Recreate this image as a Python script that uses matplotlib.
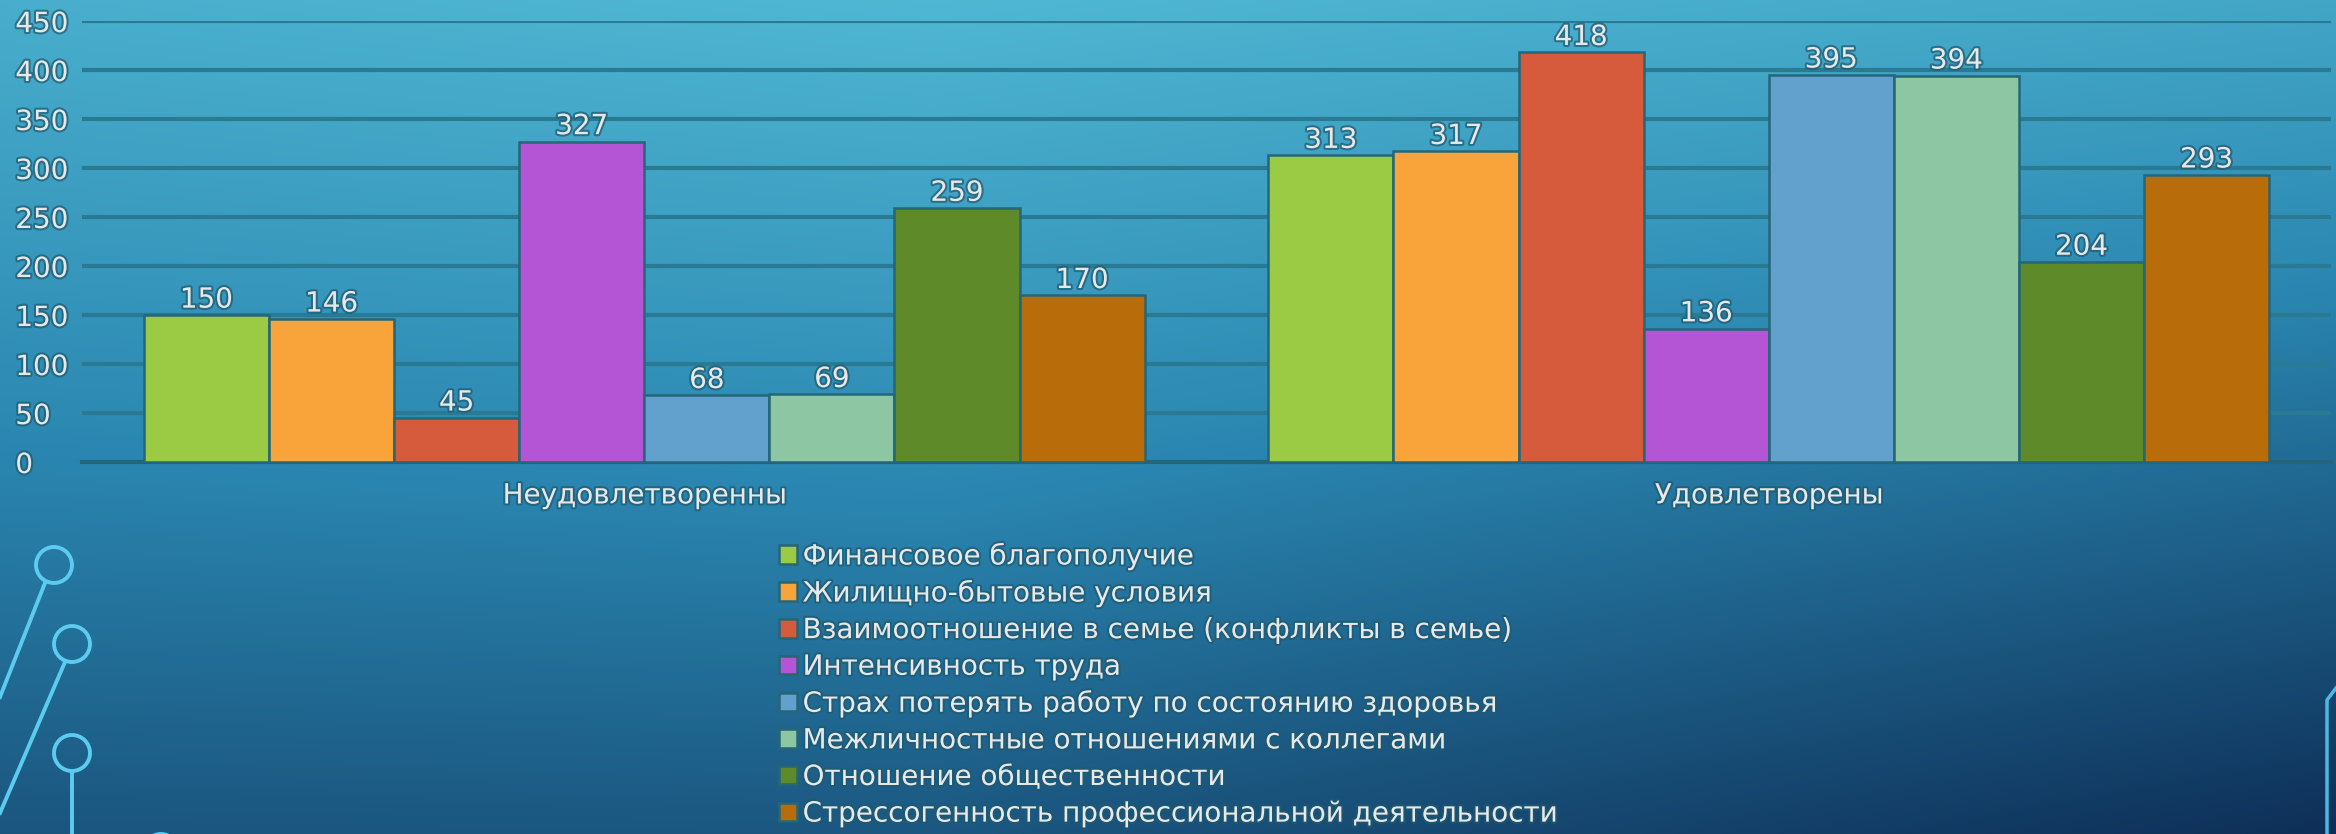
import numpy as np
import matplotlib
matplotlib.use("Agg")
import matplotlib.pyplot as plt
from matplotlib.colors import LinearSegmentedColormap
from matplotlib.patches import Circle
import matplotlib.patheffects as pe

plt.rcParams['font.family'] = ['DejaVu Sans']

categories = ["Неудовлетворенны", "Удовлетворены"]
series_names = [
    "Финансовое благополучие",
    "Жилищно-бытовые условия",
    "Взаимоотношение в семье (конфликты в семье)",
    "Интенсивность труда",
    "Страх потерять работу по состоянию здоровья",
    "Межличностные отношениями с коллегами",
    "Отношение общественности",
    "Стрессогенность профессиональной деятельности",
]
unsatisfied = [150, 146, 45, 327, 68, 69, 259, 170]
satisfied = [313, 317, 418, 136, 395, 394, 204, 293]
colors = ["#9BCB45", "#F9A43A", "#D65A3C", "#B455D6",
          "#62A0CE", "#8CC6A2", "#5E8A2A", "#B86C0A"]
yticks = [0, 50, 100, 150, 200, 250, 300, 350, 400, 450]

W, H = 2336, 834
fig = plt.figure(figsize=(W / 100, H / 100), dpi=100)

# background gradient
bg = fig.add_axes([0, 0, 1, 1], zorder=0)
u = np.linspace(0, 1, 600)[None, :]
v = np.linspace(0, 1, 220)[:, None]
t = 0.55 * v + 0.35 * u * (0.6 + 0.4 * v) + 0.15 * np.clip(0.4 - u, 0, None) / 0.4
t = np.clip(t, 0, 1)
cmap = LinearSegmentedColormap.from_list("bg", [(0, "#58C2DB"), (0.45, "#2A86B0"), (1, "#081C44")])
bg.imshow(t, cmap=cmap, vmin=0, vmax=1, extent=[0, W, H, 0], aspect='auto', interpolation='bilinear')
bg.set_xlim(0, W)
bg.set_ylim(H, 0)
bg.axis('off')

# decorative circuit lines
dec = "#5CCBF0"
for (cx, cy) in [(54, 565), (72, 644), (72, 753), (161, 852)]:
    bg.add_patch(Circle((cx, cy), 18, fill=False, ec=dec, lw=2.8))
bg.plot([45, 0], [583, 697], color=dec, lw=2.8)
bg.plot([65, 0], [662, 813], color=dec, lw=2.8)
bg.plot([72, 72], [771, 834], color=dec, lw=2.8)
bg.plot([2336, 2327, 2327], [688, 700, 834], color="#4FB8E0", lw=2.5)

# main axes
ax = fig.add_axes([82 / W, 1 - 462 / H, (2331 - 82) / W, (462 - 21) / H], zorder=1)
ax.patch.set_alpha(0)
n = len(series_names)
bw = 0.89 / n
x = np.arange(len(categories))
txt_fx = [pe.withStroke(linewidth=3, foreground="#1E5A70", alpha=0.7)]
for i in range(n):
    vals = [unsatisfied[i], satisfied[i]]
    bars = ax.bar(x + (i - (n - 1) / 2) * bw, vals, width=bw, color=colors[i],
                  edgecolor="#256677", linewidth=1.8, label=series_names[i], zorder=3)
    for b, val in zip(bars, vals):
        ax.annotate(str(val), (b.get_x() + b.get_width() / 2, b.get_height()),
                    xytext=(0, 1), textcoords='offset points', ha='center', va='bottom',
                    fontsize=20, color="#E8E8E8", path_effects=txt_fx, zorder=4)

ax.set_xlim(-0.5, 1.5)
ax.set_ylim(0, 450)
ax.set_yticks(yticks)
ax.set_yticklabels([str(v) for v in yticks])
for lab in ax.get_yticklabels():
    lab.set_ha('left')
    lab.set_color("#E8E8E8")
    lab.set_path_effects(txt_fx)
ax.tick_params(axis='y', length=0, pad=48, labelsize=20)
ax.set_xticks(x)
ax.set_xticklabels(categories)
for lab in ax.get_xticklabels():
    lab.set_color("#E8E8E8")
    lab.set_path_effects(txt_fx)
ax.tick_params(axis='x', length=0, pad=14, labelsize=20)
ax.grid(axis='y', color="#2A7A93", linewidth=3, zorder=0)
ax.set_axisbelow(True)
for s in ['top', 'right', 'left']:
    ax.spines[s].set_visible(False)
ax.spines['bottom'].set_color("#23657A")
ax.spines['bottom'].set_linewidth(3)

leg = fig.legend(loc='upper left', bbox_to_anchor=(779 / W, 1 - 542 / H), frameon=False,
                 fontsize=20, handlelength=0.65, handleheight=0.65, handletextpad=0.2,
                 labelspacing=0.31, borderpad=0, borderaxespad=0)
for txt in leg.get_texts():
    txt.set_color("#E8E8E8")
    txt.set_path_effects(txt_fx)

fig.savefig("out.png", dpi=100)
